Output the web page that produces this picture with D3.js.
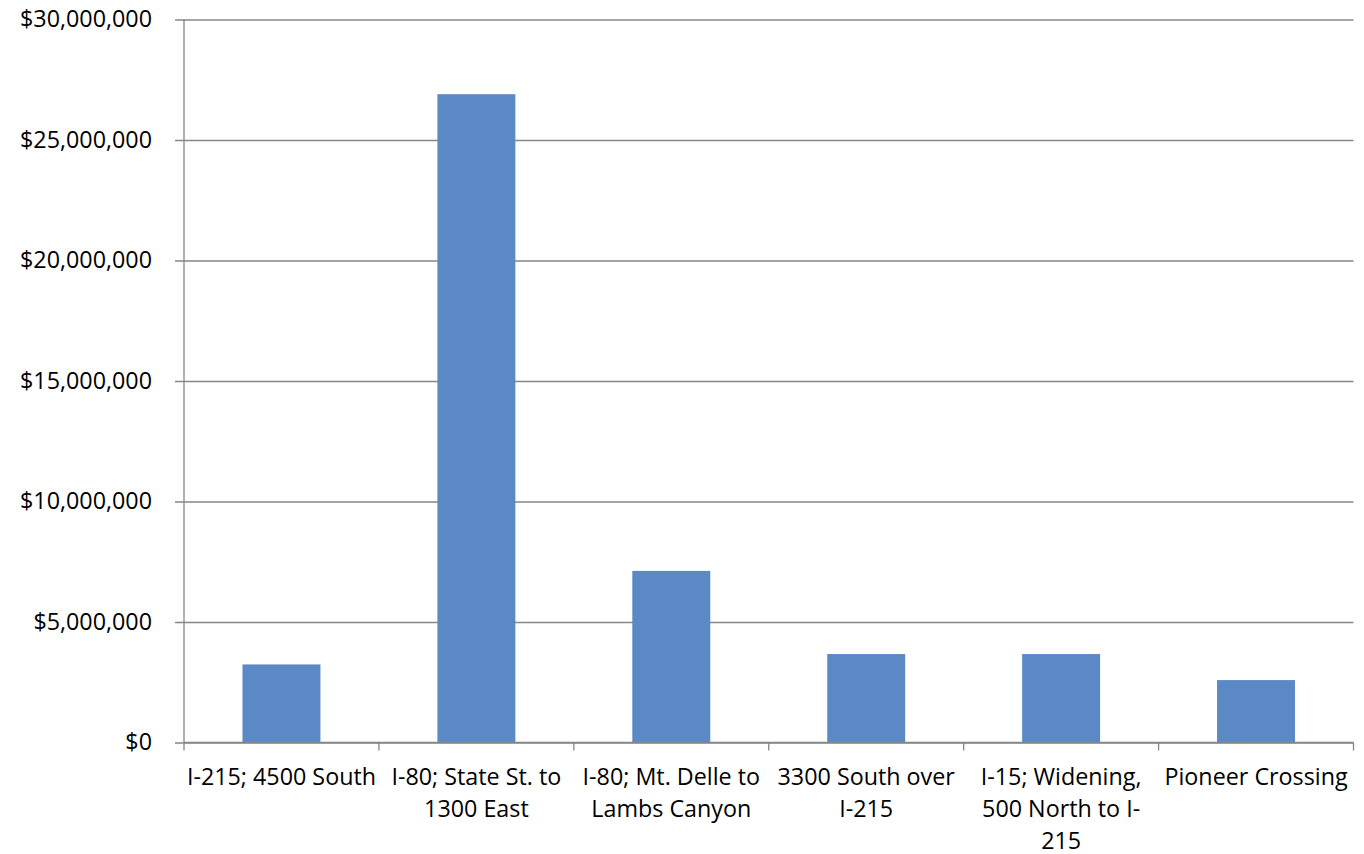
<!DOCTYPE html>
<html>
<head>
<meta charset="utf-8">
<script src="https://cdn.jsdelivr.net/npm/d3@7"></script>
<style>
  html, body { margin: 0; padding: 0; background: #fff; }
  svg { display: block; }
  text { font-family: "Open Sans", sans-serif; fill: #000; }
</style>
</head>
<body>
<svg id="chart" width="1364" height="854"></svg>
<script>
// Project names, one entry per wrapped label line
const categories = [
  ["I-215; 4500 South"],
  ["I-80; State St. to", "1300 East"],
  ["I-80; Mt. Delle to", "Lambs Canyon"],
  ["3300 South over", "I-215"],
  ["I-15; Widening,", "500 North to I-", "215"],
  ["Pioneer Crossing"]
];
// Project cost in dollars
const costs = [3240000, 26900000, 7120000, 3670000, 3670000, 2590000];
// Value axis ticks
const yTicks = [0, 5000000, 10000000, 15000000, 20000000, 25000000, 30000000];

const W = 1364, H = 854;
const m = { left: 184, right: 10.5, top: 19.5, bottom: 111.5 };
const svg = d3.select("#chart");

const keys = categories.map((d, i) => i);
const x = d3.scaleBand()
  .domain(keys)
  .range([m.left, W - m.right])
  .paddingInner(0.6)
  .paddingOuter(0.3);
const y = d3.scaleLinear()
  .domain([0, 30000000])
  .range([H - m.bottom, m.top]);

const grey = "#868686";
const fmt = v => "$" + d3.format(",")(v);

// horizontal gridlines with outer tick stubs
const yAxis = svg.append("g")
  .attr("transform", `translate(${m.left},0)`)
  .call(d3.axisLeft(y).tickValues(yTicks).tickFormat(fmt)
    .tickSize(-(W - m.left - m.right)).tickSizeOuter(0).tickPadding(32));
yAxis.select(".domain").remove();
yAxis.selectAll(".tick line").attr("stroke", grey).attr("stroke-width", 1.3).attr("x1", -9);
yAxis.selectAll(".tick text").attr("font-size", "23.3px").attr("font-family", "Open Sans, sans-serif").attr("fill", "#000");

// left axis line
svg.append("line")
  .attr("x1", m.left).attr("x2", m.left)
  .attr("y1", y(30000000)).attr("y2", y(0))
  .attr("stroke", grey).attr("stroke-width", 1.3);

// bars
svg.append("g").selectAll("rect")
  .data(costs)
  .join("rect")
  .attr("x", (d, i) => x(i))
  .attr("width", x.bandwidth())
  .attr("y", d => y(d))
  .attr("height", d => y(0) - y(d))
  .attr("fill", "#5B89C6");

// category axis with boundary ticks
const step = x.step();
const edges = d3.range(categories.length + 1).map(i => m.left + i * step);
const xg = svg.append("g");
xg.append("line")
  .attr("x1", m.left).attr("x2", W - m.right)
  .attr("y1", y(0)).attr("y2", y(0))
  .attr("stroke", grey).attr("stroke-width", 1.3);
xg.selectAll("line.tk")
  .data(edges)
  .join("line")
  .attr("class", "tk")
  .attr("x1", d => d).attr("x2", d => d)
  .attr("y1", y(0)).attr("y2", y(0) + 8)
  .attr("stroke", grey).attr("stroke-width", 1.3);

// wrapped category labels
const lab = xg.selectAll("text.cat")
  .data(categories)
  .join("text")
  .attr("class", "cat")
  .attr("text-anchor", "middle")
  .attr("font-size", "23.3px")
  .attr("transform", (d, i) => `translate(${x(i) + x.bandwidth() / 2},${y(0) + 42})`);
lab.selectAll("tspan")
  .data(d => d)
  .join("tspan")
  .attr("x", 0)
  .attr("y", (d, j) => j * 32.3)
  .text(d => d);
</script>
</body>
</html>
